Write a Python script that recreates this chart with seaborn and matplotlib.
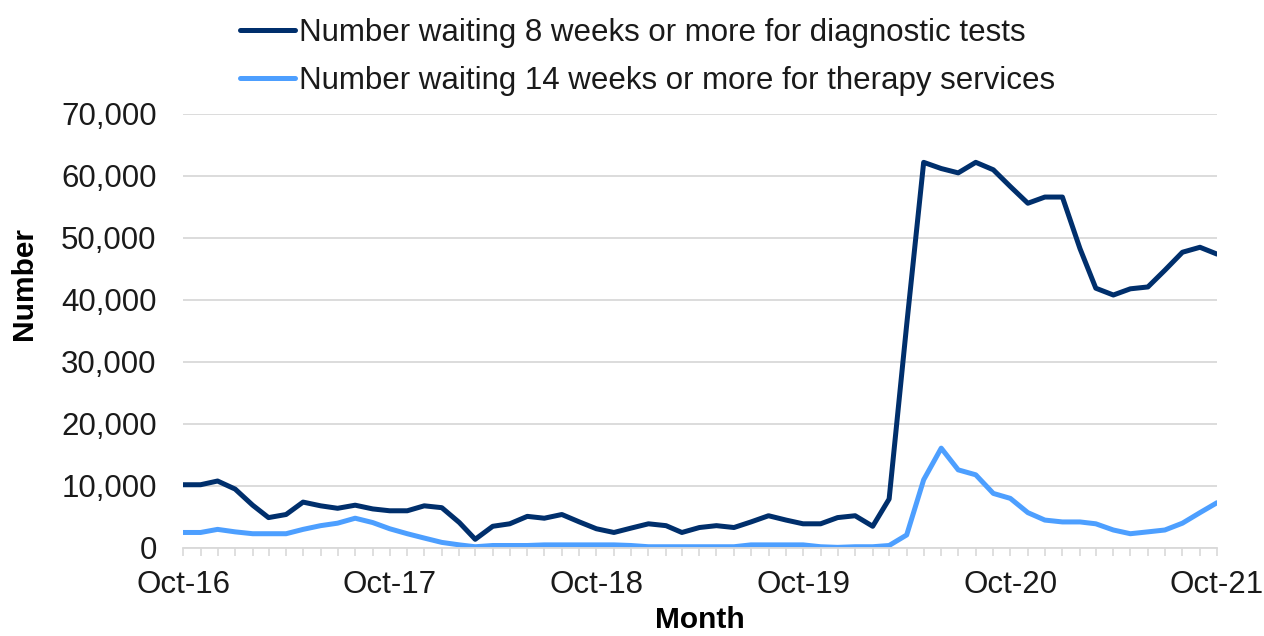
import pandas as pd
import matplotlib.pyplot as plt
import matplotlib.dates as mdates
import seaborn as sns

# monthly figures, Oct-16 .. Oct-21
months = pd.date_range("2016-10-01", periods=61, freq="MS")

diagnostic = [
    10200, 10200, 10800, 9500, 6900, 4900, 5400, 7400, 6800, 6400, 6900, 6300,
    6000, 6000, 6800, 6500, 4100, 1400, 3500, 3900, 5100, 4800, 5400, 4200,
    3100, 2500, 3200, 3900, 3600, 2500, 3300, 3600, 3300, 4200, 5200, 4500,
    3900, 3900, 4900, 5200, 3500, 7900, 36000, 62200, 61200, 60500, 62200, 61000,
    58300, 55600, 56600, 56600, 48300, 41900, 40800, 41800, 42100, 44800, 47700, 48500,
    47400,
]
therapy = [
    2500, 2500, 3000, 2600, 2300, 2300, 2300, 3000, 3600, 4000, 4800, 4100,
    3100, 2300, 1600, 900, 500, 200, 400, 400, 400, 500, 500, 500,
    500, 500, 400, 200, 200, 200, 200, 200, 200, 500, 500, 500,
    500, 200, 100, 200, 200, 400, 2100, 11000, 16100, 12600, 11800, 8800,
    8000, 5700, 4500, 4200, 4200, 3900, 2900, 2300, 2600, 2900, 4000, 5700,
    7300,
]
series_names = [
    "Number waiting 8 weeks or more for diagnostic tests",
    "Number waiting 14 weeks or more for therapy services",
]
colors = ["#002f6c", "#4d9fff"]

df = pd.concat([
    pd.DataFrame({"Month": months, "Number": diagnostic, "Series": series_names[0]}),
    pd.DataFrame({"Month": months, "Number": therapy, "Series": series_names[1]}),
])

sns.set_style("white")
plt.rcParams["font.family"] = ["Liberation Sans", "DejaVu Sans"]
text_color = "#1a1a1a"

fig = plt.figure(figsize=(12.64, 6.36), dpi=100)
ax = fig.add_axes([0.1448, 0.1384, 0.818, 0.6824])

sns.lineplot(data=df, x="Month", y="Number", hue="Series",
             palette=dict(zip(series_names, colors)), linewidth=3.6, ax=ax)

ax.set_ylim(0, 70000)
ax.set_xlim(months[0], months[-1])
ax.set_yticks(range(0, 70001, 10000))
ax.yaxis.set_major_formatter(plt.FuncFormatter(lambda v, p: f"{int(v):,}"))
ax.grid(axis="y", color="#d9d9d9", linewidth=1.3)
ax.set_axisbelow(True)

ax.xaxis.set_major_locator(mdates.MonthLocator(bymonth=10))
ax.xaxis.set_minor_locator(mdates.MonthLocator())
ax.xaxis.set_major_formatter(mdates.DateFormatter("%b-%y"))

for s in ["left", "right", "top"]:
    ax.spines[s].set_visible(False)
ax.spines["bottom"].set_color("#d9d9d9")
ax.spines["bottom"].set_linewidth(1.3)

ax.tick_params(axis="x", which="both", direction="out", length=6, width=1.2,
               color="#d9d9d9", bottom=True, labelsize=22.5, pad=10,
               labelcolor=text_color)
ax.tick_params(axis="y", length=0, labelsize=22.5, pad=19, labelcolor=text_color)

ax.set_xlabel("Month", fontsize=21.5, fontweight="bold", labelpad=4, color="black")
ax.set_ylabel("Number", fontsize=21.5, fontweight="bold", color="black")
ax.yaxis.set_label_coords(-0.14, 0.61)

ax.get_legend().remove()
handles, labels = ax.get_legend_handles_labels()
leg = fig.legend(handles, labels, loc="upper left", bbox_to_anchor=(0.168, 1.016),
                 frameon=False, fontsize=22.5, handlelength=1.76, handletextpad=0.1,
                 labelspacing=0.57)
for t in leg.get_texts():
    t.set_color(text_color)

fig.savefig("out.png", dpi=100)
